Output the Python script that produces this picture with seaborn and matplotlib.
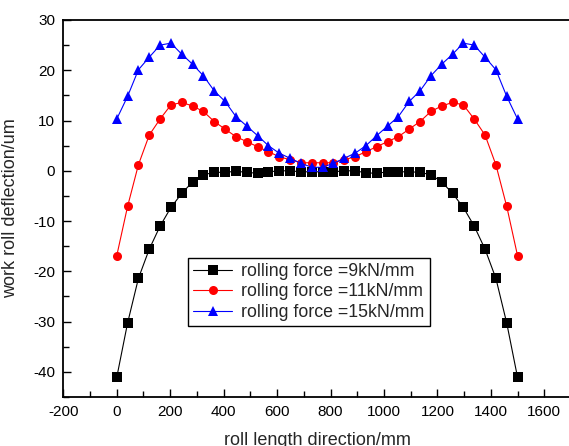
import numpy as np
import pandas as pd
import seaborn as sns
import matplotlib
matplotlib.use("Agg")
import matplotlib.pyplot as plt
from matplotlib.ticker import MultipleLocator

# roll length positions (mm)
x_pos = [0, 40.5, 81.1, 121.6, 162.2, 202.7, 243.2, 283.8, 324.3, 364.9,
         405.4, 445.9, 486.5, 527.0, 567.6, 608.1, 648.6, 689.2, 729.7, 770.3,
         810.8, 851.4, 891.9, 932.4, 973.0, 1013.5, 1054.1, 1094.6, 1135.1, 1175.7,
         1216.2, 1256.8, 1297.3, 1337.8, 1378.4, 1418.9, 1459.5, 1500]

# deflection (um) for each rolling force
f9 = [-41.1, -30.3, -21.4, -15.6, -11.0, -7.3, -4.5, -2.2, -0.8, -0.3,
      -0.3, -0.1, -0.3, -0.5, -0.2, 0.0, 0.0, -0.2, -0.2, -0.2,
      -0.2, 0.0, 0.0, -0.4, -0.5, -0.2, -0.2, -0.2, -0.3, -0.8,
      -2.2, -4.5, -7.3, -11.0, -15.6, -21.4, -30.3, -41.1]
f11 = [-16.9, -7.1, 1.2, 7.1, 10.3, 13.1, 13.6, 12.9, 11.8, 9.8,
       8.3, 6.8, 5.8, 4.8, 3.8, 2.8, 2.2, 1.6, 1.6, 1.6,
       1.6, 2.2, 2.8, 3.8, 4.8, 5.8, 6.8, 8.3, 9.8, 11.8,
       12.9, 13.6, 13.1, 10.3, 7.1, 1.2, -7.1, -16.9]
f15 = [10.3, 14.8, 20.1, 22.6, 25.0, 25.4, 23.2, 21.2, 18.9, 15.9,
       13.8, 10.8, 8.9, 7.0, 5.0, 3.5, 2.5, 1.5, 0.7, 0.7,
       1.5, 2.5, 3.5, 5.0, 7.0, 8.9, 10.8, 13.8, 15.9, 18.9,
       21.2, 23.2, 25.4, 25.0, 22.6, 20.1, 14.8, 10.3]

labels = ["rolling force =9kN/mm", "rolling force =11kN/mm", "rolling force =15kN/mm"]
colors = ["#000000", "#FF0000", "#0000FF"]
markers = ["s", "o", "^"]

sns.set_style("ticks")
plt.rcParams["font.family"] = ["Liberation Sans", "DejaVu Sans"]
plt.rcParams["axes.unicode_minus"] = False

fig = plt.figure(figsize=(5.69, 4.46), dpi=100)
ax = fig.add_axes([63.3 / 569, 49 / 446, (571 - 63.3) / 569, 377 / 446])

for ys, lab, c, m in zip([f9, f11, f15], labels, colors, markers):
    df = pd.DataFrame({"x": x_pos, "y": ys})
    sns.lineplot(data=df, x="x", y="y", ax=ax, color=c, marker=m, label=lab,
                 markersize=6.5, markeredgewidth=0, linewidth=0.8)

ax.set_xlim(-200, 1700)
ax.set_ylim(-45, 30)
ax.xaxis.set_major_locator(MultipleLocator(200))
ax.xaxis.set_minor_locator(MultipleLocator(100))
ax.yaxis.set_major_locator(MultipleLocator(10))
ax.yaxis.set_minor_locator(MultipleLocator(5))
ax.tick_params(which="both", direction="in", top=False, right=False,
               width=1.0, colors="black", labelsize=11)
ax.tick_params(which="major", length=6)
ax.tick_params(which="minor", length=4.5)
ax.tick_params(axis="x", pad=6)
ax.tick_params(axis="y", pad=6)
for s in ax.spines.values():
    s.set_visible(True)
    s.set_linewidth(1.3)
    s.set_color("black")

# the reference is cropped just below the x label
ax.set_xlabel("roll length direction/mm", fontsize=13, labelpad=9)
ax.set_ylabel("work roll deflection/um", fontsize=13, labelpad=10)

leg = ax.legend(loc="upper left", bbox_to_anchor=(0.245, 0.37), borderaxespad=0,
                fontsize=12.8, frameon=True, fancybox=False, handlelength=2.2,
                handletextpad=0.5, labelspacing=0.2, borderpad=0.3)
leg.get_frame().set_edgecolor("black")
leg.get_frame().set_linewidth(1.0)
leg.get_frame().set_alpha(1)

fig.savefig("out.png", dpi=100)
